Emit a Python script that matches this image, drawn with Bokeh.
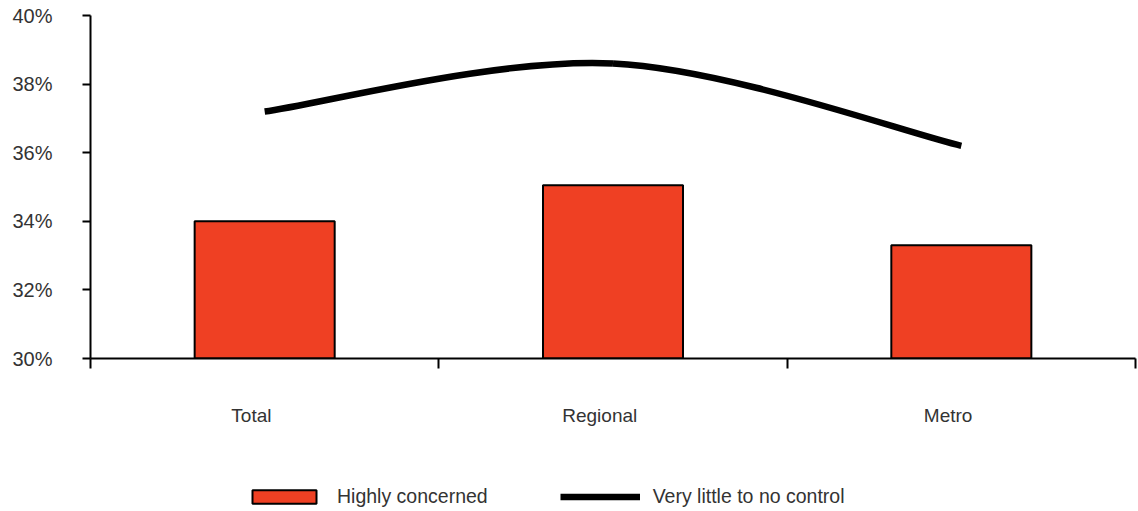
from bokeh.plotting import figure
from bokeh.layouts import column
from bokeh.models import Range1d, FixedTicker, Legend, LegendItem, ColumnDataSource
from bokeh.embed import file_html
from bokeh.resources import INLINE

categories = ["Total", "Regional", "Metro"]
highly_concerned = [34.0, 35.05, 33.3]
little_control = [37.2, 38.6, 36.2]
y_ticks = [30, 32, 34, 36, 38, 40]

BAR = "#EF4023"
TXT = "#333333"
W = 1137
LABEL_SHIFT = 0.038  # category labels sit slightly left of the bar centres
NAN = float("nan")

xs = [i + 0.5 for i in range(len(categories))]

p = figure(width=W, height=430, output_backend="svg", toolbar_location=None,
           x_range=Range1d(0, len(categories)), y_range=Range1d(30, 40),
           min_border_left=90, min_border_right=2, min_border_top=15, min_border_bottom=72)
p.outline_line_color = None
p.grid.visible = False
p.background_fill_color = "white"

bar_style = dict(fill_color=BAR, line_color="black", line_width=2)
line_style = dict(line_color="black", line_width=6.5)

p.vbar(x=xs, top=highly_concerned, bottom=30, width=0.402, **bar_style)

# Smooth line (Excel-style Catmull-Rom bezier through the data points)
n = len(little_control)
x0, y0, x1, y1, cx0, cy0, cx1, cy1 = [], [], [], [], [], [], [], []
for i in range(n - 1):
    pa = max(i - 1, 0)
    pb = min(i + 2, n - 1)
    x0.append(xs[i]); y0.append(little_control[i])
    x1.append(xs[i + 1]); y1.append(little_control[i + 1])
    cx0.append(xs[i] + (xs[i + 1] - xs[pa]) / 6)
    cy0.append(little_control[i] + (little_control[i + 1] - little_control[pa]) / 6)
    cx1.append(xs[i + 1] - (xs[pb] - xs[i]) / 6)
    cy1.append(little_control[i + 1] - (little_control[pb] - little_control[i]) / 6)
src = ColumnDataSource(dict(x0=x0, y0=y0, x1=x1, y1=y1, cx0=cx0, cy0=cy0, cx1=cx1, cy1=cy1))
p.bezier(x0="x0", y0="y0", x1="x1", y1="y1", cx0="cx0", cy0="cy0", cx1="cx1", cy1="cy1",
         source=src, **line_style)

# y axis
ya = p.yaxis[0]
ya.ticker = FixedTicker(ticks=y_ticks)
ya.major_label_overrides = {t: f"{t}%" for t in y_ticks}
ya.axis_line_color = "black"
ya.axis_line_width = 2
ya.major_tick_line_width = 2
ya.major_tick_line_color = "black"
ya.major_tick_in = 0
ya.major_tick_out = 8
ya.minor_tick_line_color = None
ya.major_label_text_font = "Liberation Sans"
ya.major_label_text_font_size = "20px"
ya.major_label_text_color = TXT
ya.major_label_standoff = 30

# x axis
label_pos = [x - LABEL_SHIFT for x in xs]
xa = p.xaxis[0]
xa.ticker = FixedTicker(ticks=label_pos, minor_ticks=list(range(len(categories) + 1)))
xa.major_label_overrides = {x: c for x, c in zip(label_pos, categories)}
xa.axis_line_color = "black"
xa.axis_line_width = 2
xa.major_tick_line_color = None
xa.minor_tick_line_color = "black"
xa.minor_tick_line_width = 2
xa.minor_tick_in = 0
xa.minor_tick_out = 10
xa.major_label_text_font = "Liberation Sans"
xa.major_label_text_font_size = "19px"
xa.major_label_text_color = TXT
xa.major_label_standoff = 36

# legend strip (separate figure so the legend is not clipped)
p2 = figure(width=W, height=80, output_backend="svg", toolbar_location=None,
            x_range=Range1d(0, 1), y_range=Range1d(0, 1),
            min_border_left=0, min_border_right=0, min_border_top=0, min_border_bottom=0)
p2.axis.visible = False
p2.grid.visible = False
p2.outline_line_color = None
# legend proxies with no drawable points
lb = p2.vbar(x=[NAN], top=[NAN], bottom=[NAN], width=0.1, **bar_style)
ll = p2.line(x=[NAN, NAN], y=[NAN, NAN], **line_style)

legend = Legend(items=[LegendItem(label="Highly concerned", renderers=[lb]),
                       LegendItem(label="Very little to no control", renderers=[ll])],
                location=(154, 2), orientation="horizontal", glyph_width=80, glyph_height=17,
                label_text_font="Liberation Sans", label_text_font_size="19.5px",
                label_text_color=TXT, label_standoff=13, padding=0, margin=0,
                spacing=72, border_line_color=None, background_fill_alpha=0)
p2.add_layout(legend, "center")

open("out.html", "w").write(file_html(column(p, p2, spacing=0), INLINE))
